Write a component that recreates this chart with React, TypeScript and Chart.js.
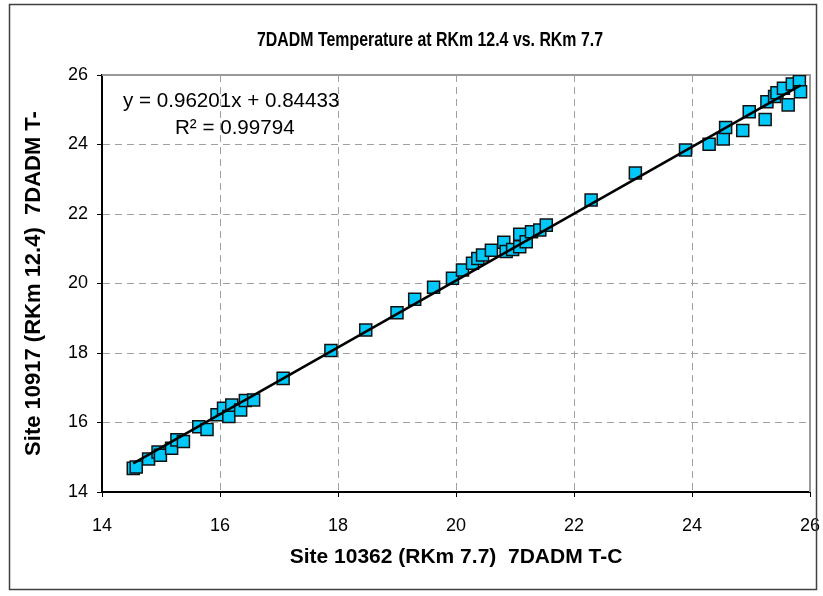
import React, { useEffect, useRef } from "react";
import { Chart, registerables } from "chart.js";

Chart.register(...registerables);

const titleText = "7DADM Temperature at RKm 12.4 vs. RKm 7.7";
const xAxisTitle = "Site 10362 (RKm 7.7)  7DADM T-C";
const yAxisTitle = "Site 10917 (RKm 12.4)  7DADM T-";
const equationLine1 = "y = 0.96201x + 0.84433";
const equationLine2 = "R² = 0.99794";

const slope = 0.96201;
const intercept = 0.84433;

const xValues = [
  14.53, 14.58, 14.79, 14.95, 14.99, 15.18, 15.27, 15.38, 15.64, 15.78,
  15.95, 16.06, 16.15, 16.2, 16.35, 16.43, 16.57,
  17.07, 17.88, 18.47, 19.0, 19.3,
  19.62, 19.94, 20.11, 20.28, 20.37, 20.45, 20.6, 20.81, 20.85, 20.96,
  21.08, 21.08, 21.19, 21.28, 21.42, 21.53,
  22.29, 23.04,
  23.89, 24.29, 24.53, 24.57, 24.86, 24.97, 25.24, 25.27, 25.4, 25.44,
  25.55, 25.63, 25.7, 25.82, 25.84,
];
const yValues = [
  14.68, 14.72, 14.95, 15.15, 15.06, 15.26, 15.5, 15.45, 15.88, 15.8,
  16.22, 16.41, 16.17, 16.5, 16.36, 16.63, 16.65,
  17.27, 18.07, 18.66, 19.16, 19.55,
  19.89, 20.15, 20.39, 20.58, 20.72, 20.82, 20.96, 21.19, 20.92, 20.98,
  21.06, 21.42, 21.2, 21.49, 21.54, 21.68,
  22.4, 23.18,
  23.84, 24.01, 24.16, 24.49, 24.4, 24.94, 24.72, 25.23, 25.38, 25.49,
  25.62, 25.14, 25.74, 25.81, 25.52,
];

const axisMin = 14;
const axisMax = 26;
const axisStep = 2;

const FONT = "'Liberation Sans', Arial, sans-serif";

export default function App() {
  const ref = useRef<HTMLCanvasElement | null>(null);

  useEffect(() => {
    if (!ref.current) return;
    const points = xValues.map((x, i) => ({ x, y: yValues[i] }));
    const xMin = Math.min(...xValues);
    const xMax = Math.max(...xValues);
    const trend = [
      { x: xMin, y: slope * xMin + intercept },
      { x: xMax, y: slope * xMax + intercept },
    ];

    const decor = {
      id: "decor",
      beforeDraw(chart: any) {
        const ctx = chart.ctx;
        ctx.save();
        ctx.fillStyle = "#ffffff";
        ctx.fillRect(0, 0, chart.width, chart.height);
        ctx.restore();
      },
      beforeDatasetsDraw(chart: any) {
        const { ctx, chartArea: a } = chart;
        ctx.save();
        ctx.strokeStyle = "#999999";
        ctx.lineWidth = 2;
        ctx.beginPath();
        ctx.moveTo(a.left, a.top);
        ctx.lineTo(a.right, a.top);
        ctx.lineTo(a.right, a.bottom);
        ctx.stroke();
        ctx.restore();
      },
      afterDraw(chart: any) {
        const ctx = chart.ctx;
        ctx.save();
        ctx.strokeStyle = "#404040";
        ctx.lineWidth = 1.5;
        ctx.strokeRect(9.5, 4.5, 807, 585);
        ctx.fillStyle = "#000";
        ctx.textBaseline = "middle";
        ctx.textAlign = "center";
        ctx.font = `bold 20px ${FONT}`;
        const w = ctx.measureText(titleText).width;
        const sx = Math.min(1, 346 / w);
        ctx.save();
        ctx.translate(430, 40);
        ctx.scale(sx, 1);
        ctx.fillText(titleText, 0, 0);
        ctx.restore();
        ctx.font = `20.6px ${FONT}`;
        ctx.textAlign = "left";
        ctx.fillText(equationLine1, 123, 101);
        ctx.fillText(equationLine2, 175, 128);
        ctx.restore();
      },
    };

    const gridOpts: any = {
      color: "#a0a0a0",
      lineWidth: 1,
      tickLength: 5,
      tickColor: "#000",
      tickBorderDash: [],
      tickWidth: 1,
    };
    const borderOpts: any = { color: "#000", width: 2, dash: [7, 5] };

    const chart = new Chart(ref.current, {
      type: "scatter",
      data: {
        datasets: [
          {
            type: "line",
            data: trend,
            borderColor: "#000000",
            borderWidth: 2.5,
            pointRadius: 0,
            fill: false,
            order: 0,
          },
          {
            data: points,
            backgroundColor: "#00C8F8",
            borderColor: "#111111",
            borderWidth: 1.5,
            pointStyle: "rect",
            pointRadius: 8.5,
            order: 1,
          },
        ],
      },
      options: {
        animation: false,
        responsive: false,
        layout: { padding: { left: 0, right: 0, top: 75, bottom: 0 } },
        plugins: {
          legend: { display: false },
          tooltip: { enabled: false },
          title: { display: false },
        },
        scales: {
          x: {
            type: "linear",
            min: axisMin,
            max: axisMax,
            afterFit(scale: any) {
              scale.height = 104;
              scale.paddingRight = 13;
              scale.paddingLeft = 0;
            },
            ticks: {
              stepSize: axisStep,
              color: "#000",
              padding: 18,
              font: { family: FONT, size: 18 },
            },
            grid: gridOpts,
            border: borderOpts,
            title: {
              display: true,
              text: xAxisTitle,
              color: "#000",
              font: { family: FONT, size: 21, weight: "bold" },
              padding: { top: 0, bottom: 26 },
            },
          },
          y: {
            type: "linear",
            min: axisMin,
            max: axisMax,
            afterFit(scale: any) {
              scale.width = 102;
              scale.paddingTop = 0;
              scale.paddingBottom = 0;
            },
            ticks: {
              stepSize: axisStep,
              color: "#000",
              padding: 9,
              font: { family: FONT, size: 18 },
            },
            grid: gridOpts,
            border: borderOpts,
            title: {
              display: true,
              text: yAxisTitle,
              color: "#000",
              font: { family: FONT, size: 22, weight: "bold" },
              padding: { top: 21, bottom: 0 },
            },
          },
        },
      },
      plugins: [decor],
    } as any);

    return () => chart.destroy();
  }, []);

  return (
    <canvas
      ref={ref}
      width={823}
      height={596}
      style={{ position: "fixed", left: 0, top: 0, width: 823, height: 596 }}
    />
  );
}
